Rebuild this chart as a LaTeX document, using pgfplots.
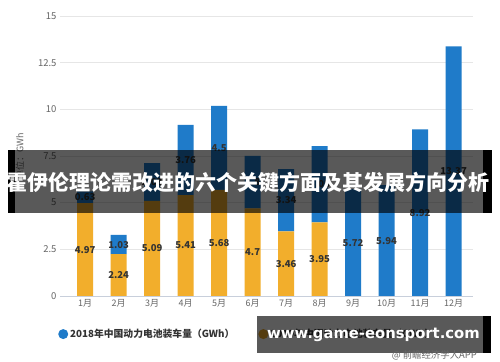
\documentclass[border=0pt]{standalone}
\usepackage{pgfplots}
\usepackage{pgfplotstable}
\pgfplotsset{compat=1.18}
\usepackage{fontspec}
\setmainfont{Noto Sans CJK SC}
\newfontfamily\djv{DejaVu Sans}
\definecolor{cblue}{HTML}{1F7BC9}
\definecolor{corange}{HTML}{F2AE2C}
\definecolor{gridc}{HTML}{E6E6E6}
\definecolor{axisc}{HTML}{C8CFDB}
\definecolor{tickc}{HTML}{666666}
\definecolor{labc}{HTML}{333333}

\pgfplotstableread{
x y2019 y2018
0 4.97 0.63
1 2.24 1.03
2 5.09 2.03
3 5.41 3.76
4 5.68 4.5
5 4.7 2.8
6 3.46 3.34
7 3.95 4.08
8 0 5.72
9 0 5.94
10 0 8.92
11 0 13.37
}\data

\pgfplotstableread{
x y lab
0 2.485 4.97
1 1.12 2.24
2 2.545 5.09
3 2.705 5.41
4 2.84 5.68
5 2.35 4.7
6 1.73 3.46
7 1.975 3.95
0 5.285 0.63
1 2.755 1.03
2 6.105 2.03
3 7.29 3.76
4 7.93 4.5
5 6.1 2.8
6 5.13 3.34
7 5.99 4.08
8 2.86 5.72
9 2.97 5.94
10 4.46 8.92
11 6.685 13.37
}\labels

\begin{document}
\begin{tikzpicture}
\path[use as bounding box, fill=white] (0,0) rectangle (500bp,362bp);
\begin{axis}[
  at={(60bp,66bp)}, anchor=south west,
  width=413bp, height=280bp, scale only axis,
  ybar stacked, bar width=16bp,
  xmin=-0.75, xmax=11.58, ymin=0, ymax=15,
  ytick={0,2.5,5,7.5,10,12.5,15},
  xtick={0,1,2,3,4,5,6,7,8,9,10,11},
  xticklabels={1月,2月,3月,4月,5月,6月,7月,8月,9月,10月,11月,12月},
  axis lines*=left,
  y axis line style={draw=none},
  x axis line style={draw=axisc},
  tick style={draw=none},
  ymajorgrids, grid style={gridc, line width=0.8pt},
  /pgf/number format/assume math mode=true,
  yticklabel style={font=\fontsize{9.5bp}{10bp}\selectfont, text=tickc},
  xticklabel style={font=\fontsize{9bp}{10bp}\selectfont, text=tickc},
  ylabel={单位：GWh},
  ylabel style={at={(axis description cs:-0.097,0.5)}, anchor=center, font=\fontsize{9bp}{10bp}\selectfont, text=tickc},
  reverse legend,
  legend columns=2,
  legend style={draw=none, fill=none, at={(-0.012,-0.136)}, anchor=west,
    font=\bfseries\fontsize{9.8bp}{11bp}\selectfont, text=labc,
    /tikz/every even column/.append style={column sep=22bp}},
  legend image code/.code={\fill[#1] (0bp,0bp) circle (5bp);},
]
\addplot[fill=corange, draw=none] table[x=x, y=y2019] {\data};
\addlegendentry{2019年中国动力电池装车量（GWh）}
\addplot[fill=cblue, draw=none] table[x=x, y=y2018] {\data};
\addlegendentry{2018年中国动力电池装车量（GWh）}
\end{axis}
\begin{axis}[
  at={(60bp,66bp)}, anchor=south west,
  width=413bp, height=280bp, scale only axis,
  xmin=-0.75, xmax=11.58, ymin=0, ymax=15,
  axis lines=none, ticks=none,
]
\addplot[draw=none, mark=none, nodes near coords, point meta=explicit symbolic,
  nodes near coords style={anchor=center, font=\bfseries\fontsize{9.5bp}{10bp}\selectfont, text=labc}]
  table[x=x, y=y, meta=lab] {\labels};
\end{axis}
% overlay banner
\fill[black, opacity=0.65] (15bp,149bp) rectangle (483bp,212bp);
\fill[black] (8bp,149bp) rectangle (15bp,212bp);
\fill[black] (483bp,149bp) rectangle (492bp,212bp);
\node[text=white, font=\bfseries\fontsize{21bp}{22bp}\selectfont, inner sep=0pt] at (247.5bp,180bp) {霍伊伦理论需改进的六个关键方面及其发展方向分析};
% bottom watermark banner
\fill[black, opacity=0.65] (257bp,9bp) rectangle (483bp,46bp);
\fill[black] (483bp,9bp) rectangle (491bp,46bp);
\node[text=white, font=\djv\bfseries\fontsize{14.8bp}{16bp}\selectfont, inner sep=0pt] at (373.5bp,27bp) {www.game-eonsport.com};
\node[text=tickc, font=\fontsize{9.4bp}{10bp}\selectfont, inner sep=0pt, anchor=east] at (477bp,7bp) {@ 前瞻经济学人APP};
\end{tikzpicture}
\end{document}
